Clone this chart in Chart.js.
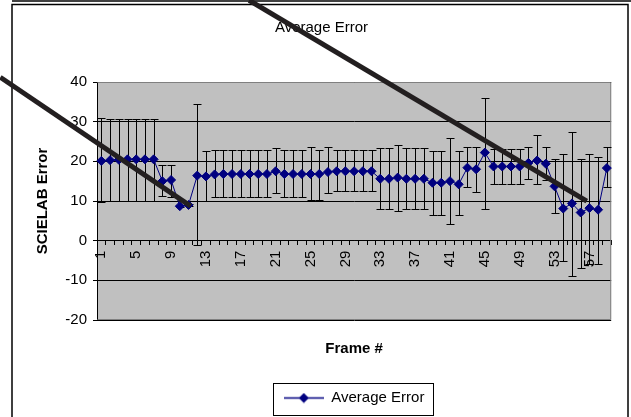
<!DOCTYPE html>
<html>
<head>
<meta charset="utf-8">
<script src="https://cdn.jsdelivr.net/npm/chart.js@4/dist/chart.umd.min.js"></script>
<style>
  html, body { margin: 0; padding: 0; background: #fff; }
  #wrap { width: 631px; height: 417px; }
</style>
</head>
<body>
<div id="wrap"><canvas id="errChart" width="631" height="417"></canvas></div>
<script>
const frames = ['1','2','3','4','5','6','7','8','9','10','11','12','13','14','15','16','17','18','19','20',
  '21','22','23','24','25','26','27','28','29','30','31','32','33','34','35','36','37','38','39','40',
  '41','42','43','44','45','46','47','48','49','50','51','52','53','54','55','56','57','58','59'];

const avgError = [20.1, 20.3, 20.4, 20.5, 20.5, 20.5, 20.5, 15.0, 15.3, 8.7,
  9.0, 16.4, 16.2, 16.7, 16.8, 16.8, 16.8, 16.8, 16.8, 16.8,
  17.5, 16.8, 16.8, 16.8, 16.8, 16.8, 17.3, 17.5, 17.5, 17.5,
  17.5, 17.5, 15.6, 15.6, 15.9, 15.6, 15.6, 15.6, 14.6, 14.6,
  15.0, 14.2, 18.4, 18.0, 22.2, 18.7, 18.7, 18.7, 18.7, 19.6,
  20.2, 19.4, 13.7, 8.1, 9.4, 7.1, 8.2, 7.8, 18.3];

const errLow = [9.7, 10.0, 10.0, 10.0, 10.0, 10.0, 10.0, 11.2, 11.0, 8.5,
  8.8, -1.2, 10.0, 10.9, 10.9, 10.9, 10.9, 10.9, 10.9, 10.9,
  12.0, 10.9, 10.9, 10.9, 10.2, 10.2, 11.9, 12.6, 12.6, 12.6,
  12.6, 12.6, 8.1, 8.1, 7.6, 8.1, 8.1, 8.1, 6.5, 6.5,
  4.2, 6.4, 13.5, 12.3, 8.1, 14.3, 14.3, 14.3, 14.3, 15.6,
  14.3, 15.2, 7.1, -5.1, -8.9, -7.0, -5.8, -5.8, 13.5];

const errHigh = [31.0, 30.6, 30.6, 30.6, 30.6, 30.6, 30.6, 19.0, 19.2, 8.9,
  9.2, 34.5, 22.6, 22.8, 22.8, 22.8, 22.8, 22.8, 22.8, 22.8,
  23.3, 22.8, 22.8, 22.8, 23.6, 22.8, 23.6, 22.8, 22.8, 22.8,
  22.8, 22.8, 23.3, 23.3, 24.2, 23.3, 23.3, 23.3, 22.6, 22.6,
  26.0, 22.6, 23.6, 23.6, 35.9, 23.1, 23.1, 23.1, 23.1, 23.6,
  26.6, 23.6, 20.7, 21.8, 27.5, 20.7, 21.8, 21.1, 23.6];

const yTicks = [-20, -10, 0, 10, 20, 30, 40];

// two hand-drawn strike lines over the figure, in (frame index, value) units
const strikeLines = [
  [[-11.6, 41.2], [10.24, 8.7]],
  [[16.95, 60.6], [55.7, 9.95]]
];

const FONT = "'Liberation Sans', Arial, sans-serif";
const NAVY = '#000080';

// legend symbol: line with diamond
const legendSym = document.createElement('canvas');
legendSym.width = 40;
legendSym.height = 11;
(function () {
  const c = legendSym.getContext('2d');
  c.strokeStyle = NAVY;
  c.lineWidth = 1.5;
  c.beginPath();
  c.moveTo(0, 5.5);
  c.lineTo(40, 5.5);
  c.stroke();
  c.fillStyle = NAVY;
  c.beginPath();
  c.moveTo(15, 5.5);
  c.lineTo(20, 0.5);
  c.lineTo(25, 5.5);
  c.lineTo(20, 10.5);
  c.closePath();
  c.fill();
})();

const decorPlugin = {
  id: 'decor',
  beforeDraw(chart) {
    const {ctx, chartArea: a} = chart;
    ctx.save();
    ctx.fillStyle = '#fff';
    ctx.fillRect(0, 0, chart.width, chart.height);
    ctx.fillStyle = '#C0C0C0';
    ctx.fillRect(a.left, a.top, a.right - a.left, a.bottom - a.top);
    ctx.restore();
  },
  beforeDatasetsDraw(chart) {
    const {ctx, chartArea: a} = chart;
    const xs = chart.scales.x, ys = chart.scales.y;
    ctx.save();
    // plot frame
    ctx.strokeStyle = '#808080';
    ctx.lineWidth = 1;
    ctx.beginPath();
    ctx.moveTo(a.left + 0.5, a.top + 0.5);
    ctx.lineTo(a.right - 0.5, a.top + 0.5);
    ctx.lineTo(a.right - 0.5, a.bottom - 0.5);
    ctx.lineTo(a.left + 0.5, a.bottom - 0.5);
    ctx.stroke();
    // error bars
    ctx.strokeStyle = '#000';
    ctx.beginPath();
    for (let i = 0; i < avgError.length; i++) {
      const x = Math.round(xs.getPixelForValue(i)) + 0.5;
      const y1 = Math.round(ys.getPixelForValue(errHigh[i])) + 0.5;
      const y2 = Math.round(ys.getPixelForValue(errLow[i])) + 0.5;
      ctx.moveTo(x, y1); ctx.lineTo(x, y2);
      ctx.moveTo(x - 4, y1); ctx.lineTo(x + 4, y1);
      ctx.moveTo(x - 4, y2); ctx.lineTo(x + 4, y2);
    }
    ctx.stroke();
    ctx.restore();
  },
  afterDraw(chart) {
    const {ctx} = chart;
    const xs = chart.scales.x, ys = chart.scales.y;
    ctx.save();
    // legend frame
    const hb = chart.legend.legendHitBoxes[0];
    if (hb) {
      ctx.strokeStyle = '#000';
      ctx.lineWidth = 1;
      ctx.strokeRect(Math.round(hb.left - 11) + 0.5, Math.round(hb.top - 7.5) + 0.5,
        Math.round(hb.width + 19), Math.round(hb.height + 17));
    }
    // outer chart frame
    ctx.strokeStyle = '#000';
    ctx.lineWidth = 1.5;
    ctx.strokeRect(12, 4.5, 616, 430);
    ctx.beginPath();
    ctx.moveTo(12, 1);
    ctx.lineTo(chart.width, 1);
    ctx.stroke();
    // strike lines
    ctx.strokeStyle = '#231f20';
    ctx.lineWidth = 5;
    strikeLines.forEach(([p, q]) => {
      ctx.beginPath();
      ctx.moveTo(xs.getPixelForValue(p[0]), ys.getPixelForValue(p[1]));
      ctx.lineTo(xs.getPixelForValue(q[0]), ys.getPixelForValue(q[1]));
      ctx.stroke();
    });
    ctx.restore();
  }
};

const myChart = new Chart(document.getElementById('errChart'), {
  type: 'line',
  data: {
    labels: frames,
    datasets: [{
      label: 'Average Error',
      data: avgError,
      xAxisID: 'x',
      yAxisID: 'y',
      borderColor: NAVY,
      borderWidth: 1,
      backgroundColor: NAVY,
      pointStyle: 'rectRot',
      pointRadius: 4.5,
      pointBorderWidth: 1,
      pointBackgroundColor: NAVY,
      pointBorderColor: NAVY,
      tension: 0
    }]
  },
  options: {
    animation: false,
    responsive: false,
    maintainAspectRatio: false,
    layout: { padding: { left: 30, right: 18, top: 0, bottom: 1.5 } },
    plugins: {
      title: {
        display: true,
        text: 'Average Error',
        color: '#000',
        font: { family: FONT, size: 15, weight: 'normal' },
        padding: { top: 19, bottom: 45 }
      },
      legend: {
        display: true,
        position: 'bottom',
        fullSize: false,
        labels: {
          usePointStyle: true,
          pointStyle: legendSym,
          pointStyleWidth: 40,
          color: '#000',
          padding: 10,
          font: { family: FONT, size: 15 }
        }
      },
      tooltip: { enabled: false }
    },
    scales: {
      x: {
        type: 'category',
        position: { y: 0 },
        offset: true,
        grid: {
          display: true,
          drawOnChartArea: false,
          drawTicks: true,
          tickLength: 4,
          color: '#000',
          offset: true
        },
        border: { display: true, color: '#000' },
        ticks: {
          autoSkip: false,
          minRotation: 90,
          maxRotation: 90,
          padding: 6,
          color: '#000',
          font: { family: FONT, size: 15 },
          callback: (v, i) => (i % 4 === 0 ? frames[i] : '')
        },
        title: { display: false }
      },
      xt: {
        type: 'category',
        position: 'bottom',
        grid: { display: false, drawTicks: false },
        border: { display: false },
        ticks: { display: false },
        title: {
          display: true,
          text: 'Frame #',
          color: '#000',
          font: { family: FONT, size: 15, weight: 'bold' },
          padding: { top: 20, bottom: 22.5 }
        }
      },
      y: {
        min: -20,
        max: 40,
        afterBuildTicks: (s) => { s.ticks = yTicks.map(v => ({ value: v })); },
        afterFit: (s) => { s.width = 67; },
        grid: {
          color: '#000',
          lineWidth: 1,
          drawTicks: true,
          tickLength: 4
        },
        border: { display: true, color: '#000' },
        ticks: {
          padding: 6,
          color: '#000',
          font: { family: FONT, size: 15 }
        },
        title: {
          display: true,
          text: 'SCIELAB Error',
          color: '#000',
          font: { family: FONT, size: 15, weight: 'bold' },
          padding: { top: 4, bottom: 4 }
        }
      }
    }
  },
  plugins: [decorPlugin]
});
</script>
</body>
</html>
